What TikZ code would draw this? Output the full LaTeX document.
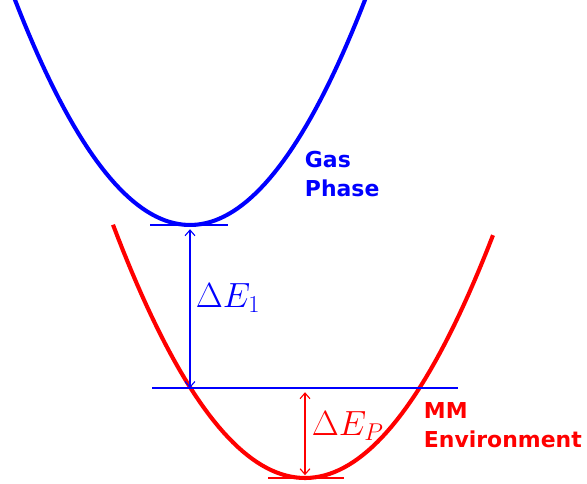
\documentclass[tikz,border=0pt]{standalone}
\usepackage{amsmath}
\usepackage{fontspec}
\newfontfamily\phasefont{DejaVu Sans}
\usepackage{tikz}
\usetikzlibrary{arrows.meta}

\tikzset{
  curve/.style={line width=2.9pt},
  level/.style={line width=1pt},
  gap/.style={<->, line width=0.8pt},
  phase/.style={font=\phasefont\bfseries\fontsize{15.6}{21}\selectfont, align=left, anchor=west},
  delta/.style={font=\fontsize{23.5}{26}\selectfont, anchor=west}
}

\begin{document}
\begin{tikzpicture}[x=0.025cm, y=-0.025cm, >={Straight Barb[length=4pt, width=7pt]}]
  \useasboundingbox (0,0) rectangle (587,484);
  \clip (0,0) rectangle (587,484);
  % the two wells
  \draw[curve, blue] plot[domain=10:370, samples=80] (\x, {225-73.5*((\x-190)/100)^2});
  \draw[curve, red] plot[domain=113:493, samples=80] (\x, {478-68.7*((\x-305)/100)^2});
  % minima and the shared level
  \coordinate (gasmin) at (190,225);
  \coordinate (mmmin) at (305,478);
  \coordinate (gastop) at (190,388);
  \coordinate (mmtop) at (305,388);
  \draw[level, blue] (150,225) -- (228,225);
  \draw[level, red] (268,478) -- (344,478);
  \draw[level, blue] (152,388) -- (458,388);
  % gaps
  \draw[gap, blue] ([yshift=-3pt]gasmin) -- (gastop);
  \draw[gap, red] ([yshift=-3pt]mmtop) -- ([yshift=2pt]mmmin);
  \node[delta, blue] (de1) at (191,298) {$\Delta E_1$};
  \node[delta, red] (dep) at (307,426) {$\Delta E_P$};
  % labels
  \node[phase, blue] (gas) at (300,174) {Gas\\Phase};
  \node[phase, red] (mm) at (419,425) {MM\\Environment};
\end{tikzpicture}
\end{document}
